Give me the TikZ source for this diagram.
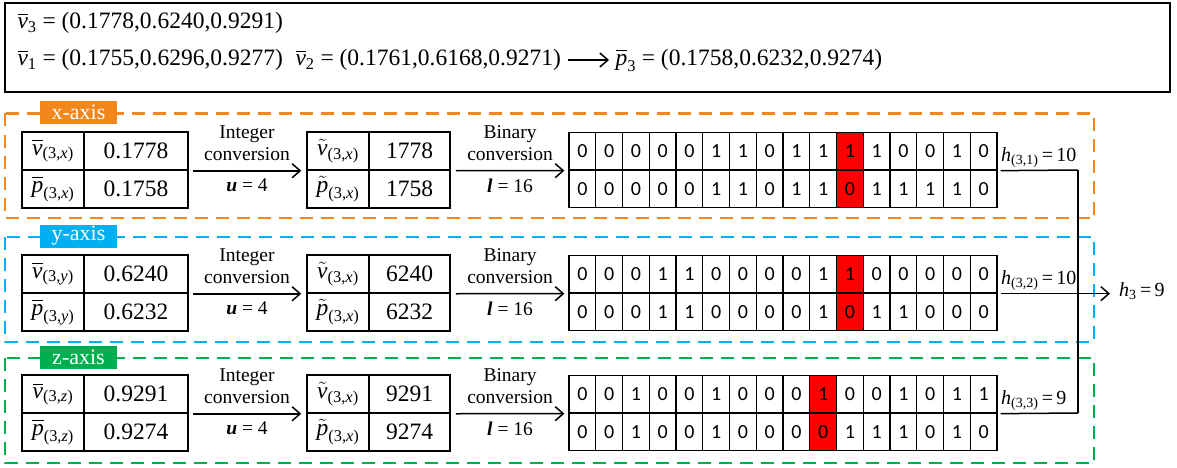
\documentclass[tikz,border=0pt]{standalone}
\usepackage{amsmath}
\usepackage{fontspec}
\setmainfont{Liberation Serif}
\newfontfamily\bitfont{Carlito}
\usetikzlibrary{arrows.meta}

\definecolor{xaxis}{RGB}{242,135,30}
\definecolor{yaxis}{RGB}{0,176,240}
\definecolor{zaxis}{RGB}{0,176,80}

\newcommand{\barsym}[2]{$\overline{\textit{#1}}_{\text{#2}}$}
\newcommand{\tildesym}[2]{$\tilde{\textit{#1}}_{\text{#2}}$}
\newcommand{\hval}[2]{$\textit{h}_{\text{#1}}$\,=\,#2}

\tikzset{
	panel/.style = {draw = #1, line width = 2.5pt, dash pattern = on 13pt off 8pt},
	tag/.style = {fill = #1, text = white, minimum width = 77pt, minimum height = 23pt, inner sep = 0pt, font = \fontsize{22}{22}\selectfont},
	cell/.style = {draw, line width = 1.5pt, minimum height = 38pt, inner sep = 0pt},
	bit/.style = {draw, line width = 1.3pt, minimum width = 26.75pt, minimum height = 37.5pt, inner sep = 0pt, font = \bitfont\fontsize{20}{20}\selectfont},
	convlabel/.style = {font = \fontsize{19.5}{22}\selectfont, align = center},
	hlabel/.style = {anchor = south west, inner sep = 1pt, font = \fontsize{20}{20}\selectfont},
	link/.style = {line width = 1.5pt}
}

\begin{document}
\begin{tikzpicture}[> = {Straight Barb[length = 8pt, width = 14pt]}, x = 1pt, y = -1pt, font = \fontsize{23.5}{27}\selectfont]

\useasboundingbox (0, 0) rectangle (1177, 468);

% Points

\draw [line width = 1.5pt] (5, 3) rectangle (1170, 92);
\node [anchor = west] (vthree) at (14, 23) {\barsym{v}{3} = (0.1778,0.6240,0.9291)};
\node [anchor = west] (vone) at (14, 60) {\barsym{v}{1} = (0.1755,0.6296,0.9277)};
\node [anchor = west] (vtwo) at (292, 60) {\barsym{v}{2} = (0.1761,0.6168,0.9271)};
\node [anchor = west] (pthree) at (612, 60) {\barsym{p}{3} = (0.1758,0.6232,0.9274)};
\draw [->, link, shorten <= 3pt, shorten >= 3pt] (vtwo) -- (pthree);

% x-axis

\draw [panel = xaxis] (5, 113.5) rectangle (1094, 218);
\node [tag = xaxis] (xtag) at (78.5, 112.5) {x-axis};

\node [cell, minimum width = 62pt] (xv) at (53, 151) {\barsym{v}{(3,\textit{x})}};
\node [cell, minimum width = 104pt] (xvval) at (136, 151) {0.1778};
\node [cell, minimum width = 62pt] (xp) at (53, 189) {\barsym{p}{(3,\textit{x})}};
\node [cell, minimum width = 104pt] (xpval) at (136, 189) {0.1758};

\node [cell, minimum width = 62pt] (xvi) at (338, 151) {\tildesym{v}{(3,\textit{x})}};
\node [cell, minimum width = 81pt] (xvival) at (409.5, 151) {1778};
\node [cell, minimum width = 62pt] (xpi) at (338, 189) {\tildesym{p}{(3,\textit{x})}};
\node [cell, minimum width = 81pt] (xpival) at (409.5, 189) {1758};

\draw [->, link] ([xshift = 4pt] xvval.south east) -- ([xshift = -5pt] xvi.south west)
	node [midway, above = 6pt, convlabel] {Integer\\conversion}
	node [midway, below = 4pt, convlabel] {\textbf{\textit{u}} = 4};

\foreach \b [count = \i] in {0,0,0,0,0,1,1,0,1,1,1,1,0,0,1,0} {
	\ifnum\i=11 \def\bitcol{red}\else\def\bitcol{white}\fi
	\node [bit, fill = \bitcol] (xa\i) at ({569 + 26.75 * (\i - 0.5)}, 151.25) {\b};
}
\foreach \b [count = \i] in {0,0,0,0,0,1,1,0,1,1,0,1,1,1,1,0} {
	\ifnum\i=11 \def\bitcol{red}\else\def\bitcol{white}\fi
	\node [bit, fill = \bitcol] (xb\i) at ({569 + 26.75 * (\i - 0.5)}, 188.75) {\b};
}

\draw [->, link] ([xshift = 5pt] xvival.south east) -- ([xshift = -4pt] xa1.south west)
	node [midway, above = 6pt, convlabel] {Binary\\conversion}
	node [midway, below = 4pt, convlabel] {\textbf{\textit{l}} = 16};

\node [hlabel] (xh) at (1000, 169) {\hval{(3,1)}{10}};
\coordinate (xturn) at (1078, 170);
\draw [link] ([xshift = 3pt] xa16.south east) -- (xturn);

% y-axis

\draw [panel = yaxis] (5, 237) rectangle (1094, 342);
\node [tag = yaxis] (ytag) at (78.5, 236) {y-axis};

\node [cell, minimum width = 62pt] (yv) at (53, 274) {\barsym{v}{(3,\textit{y})}};
\node [cell, minimum width = 104pt] (yvval) at (136, 274) {0.6240};
\node [cell, minimum width = 62pt] (yp) at (53, 312) {\barsym{p}{(3,\textit{y})}};
\node [cell, minimum width = 104pt] (ypval) at (136, 312) {0.6232};

\node [cell, minimum width = 62pt] (yvi) at (338, 274) {\tildesym{v}{(3,\textit{x})}};
\node [cell, minimum width = 81pt] (yvival) at (409.5, 274) {6240};
\node [cell, minimum width = 62pt] (ypi) at (338, 312) {\tildesym{p}{(3,\textit{x})}};
\node [cell, minimum width = 81pt] (ypival) at (409.5, 312) {6232};

\draw [->, link] ([xshift = 4pt] yvval.south east) -- ([xshift = -5pt] yvi.south west)
	node [midway, above = 6pt, convlabel] {Integer\\conversion}
	node [midway, below = 4pt, convlabel] {\textbf{\textit{u}} = 4};

\foreach \b [count = \i] in {0,0,0,1,1,0,0,0,0,1,1,0,0,0,0,0} {
	\ifnum\i=11 \def\bitcol{red}\else\def\bitcol{white}\fi
	\node [bit, fill = \bitcol] (ya\i) at ({569 + 26.75 * (\i - 0.5)}, 274.25) {\b};
}
\foreach \b [count = \i] in {0,0,0,1,1,0,0,0,0,1,0,1,1,0,0,0} {
	\ifnum\i=11 \def\bitcol{red}\else\def\bitcol{white}\fi
	\node [bit, fill = \bitcol] (yb\i) at ({569 + 26.75 * (\i - 0.5)}, 311.75) {\b};
}

\draw [->, link] ([xshift = 5pt] yvival.south east) -- ([xshift = -4pt] ya1.south west)
	node [midway, above = 6pt, convlabel] {Binary\\conversion}
	node [midway, below = 4pt, convlabel] {\textbf{\textit{l}} = 16};

\node [hlabel] (yh) at (1000, 292) {\hval{(3,2)}{10}};
\node [anchor = west, inner xsep = 9pt, inner ysep = 2pt, font = \fontsize{20}{20}\selectfont] (hthree) at (1110, 291) {\hval{3}{9}};
\draw [->, link] ([xshift = 3pt] ya16.south east) -- (ya16.south east -| hthree.west);

% z-axis

\draw [panel = zaxis] (5, 358) rectangle (1094, 463);
\node [tag = zaxis] (ztag) at (78.5, 357) {z-axis};

\node [cell, minimum width = 62pt] (zv) at (53, 394) {\barsym{v}{(3,\textit{z})}};
\node [cell, minimum width = 104pt] (zvval) at (136, 394) {0.9291};
\node [cell, minimum width = 62pt] (zp) at (53, 432) {\barsym{p}{(3,\textit{z})}};
\node [cell, minimum width = 104pt] (zpval) at (136, 432) {0.9274};

\node [cell, minimum width = 62pt] (zvi) at (338, 394) {\tildesym{v}{(3,\textit{x})}};
\node [cell, minimum width = 81pt] (zvival) at (409.5, 394) {9291};
\node [cell, minimum width = 62pt] (zpi) at (338, 432) {\tildesym{p}{(3,\textit{x})}};
\node [cell, minimum width = 81pt] (zpival) at (409.5, 432) {9274};

\draw [->, link] ([xshift = 4pt] zvval.south east) -- ([xshift = -5pt] zvi.south west)
	node [midway, above = 6pt, convlabel] {Integer\\conversion}
	node [midway, below = 4pt, convlabel] {\textbf{\textit{u}} = 4};

\foreach \b [count = \i] in {0,0,1,0,0,1,0,0,0,1,0,0,1,0,1,1} {
	\ifnum\i=10 \def\bitcol{red}\else\def\bitcol{white}\fi
	\node [bit, fill = \bitcol] (za\i) at ({569 + 26.75 * (\i - 0.5)}, 394.25) {\b};
}
\foreach \b [count = \i] in {0,0,1,0,0,1,0,0,0,0,1,1,1,0,1,0} {
	\ifnum\i=10 \def\bitcol{red}\else\def\bitcol{white}\fi
	\node [bit, fill = \bitcol] (zb\i) at ({569 + 26.75 * (\i - 0.5)}, 431.75) {\b};
}

\draw [->, link] ([xshift = 5pt] zvival.south east) -- ([xshift = -4pt] za1.south west)
	node [midway, above = 6pt, convlabel] {Binary\\conversion}
	node [midway, below = 4pt, convlabel] {\textbf{\textit{l}} = 16};

\node [hlabel] (zh) at (1000, 412) {\hval{(3,3)}{9}};
\coordinate (zturn) at (1078, 413);
\draw [link] ([xshift = 3pt] za16.south east) -- (zturn);

% Merge

\draw [link] (xturn) -- (zturn);

\end{tikzpicture}
\end{document}
